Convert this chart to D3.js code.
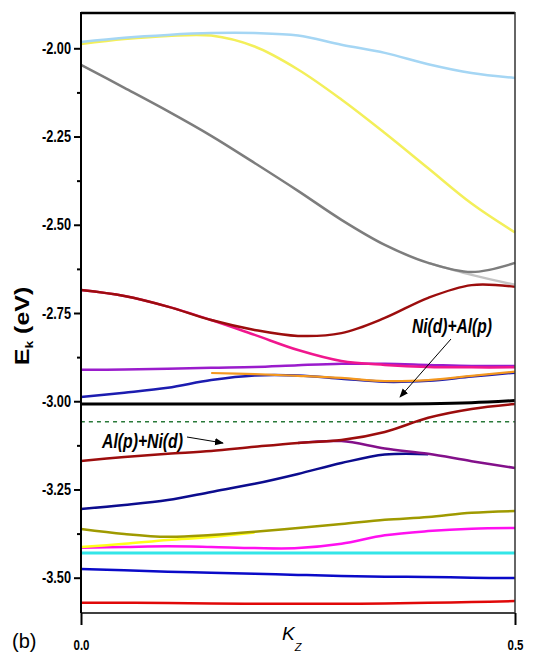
<!DOCTYPE html>
<html>
<head>
<meta charset="utf-8">
<script src="https://cdn.jsdelivr.net/npm/d3@7"></script>
<style>
body { margin: 0; background: #fff; }
</style>
</head>
<body>
<script>
// k_z sample points shared by all bands
var kz = [0, 0.05, 0.1, 0.15, 0.2, 0.25, 0.3, 0.35, 0.4, 0.45, 0.5];

// bands (eV), null = not drawn there
var skyBand     = [-1.982, -1.970, -1.962, -1.957, -1.957, -1.964, -1.990, -2.013, -2.045, -2.070, -2.084];
var yellowTop   = [-1.988, -1.974, -1.965, -1.964, -1.995, -2.060, -2.145, -2.240, -2.340, -2.440, -2.522];
var grayBand    = [-2.047, -2.112, -2.178, -2.248, -2.325, -2.404, -2.486, -2.557, -2.608, -2.634, -2.608];
var lightGray   = [null, null, null, null, null, null, null, null, -2.608, -2.642, -2.670];
var maroonTop   = [-2.685, -2.702, -2.732, -2.770, -2.798, -2.815, -2.807, -2.764, -2.707, -2.671, -2.676];
var pinkBand    = [-2.685, -2.702, -2.732, -2.770, -2.812, -2.855, -2.886, -2.897, -2.903, -2.904, -2.904];
var purpleTop   = [-2.911, -2.910, -2.908, -2.905, -2.903, -2.898, -2.894, -2.894, -2.897, -2.900, -2.900];
var blueTop     = [-2.988, -2.976, -2.962, -2.940, -2.927, -2.927, -2.936, -2.945, -2.942, -2.930, -2.919];
var orangeBand  = [null, null, null, -2.920, -2.923, -2.928, -2.934, -2.943, -2.940, -2.928, -2.916];
var blackBand   = [-3.008, -3.008, -3.008, -3.008, -3.008, -3.008, -3.008, -3.008, -3.007, -3.004, -2.998];
var fermiLine   = [-3.058, -3.058, -3.058, -3.058, -3.058, -3.058, -3.058, -3.058, -3.058, -3.058, -3.058];
var maroonLow   = [-3.169, -3.158, -3.149, -3.141, -3.129, -3.118, -3.110, -3.087, -3.047, -3.022, -3.008];
var purpleLow   = [null, null, null, null, null, -3.118, -3.113, -3.134, -3.149, -3.170, -3.189];
var navyBand    = [-3.305, -3.294, -3.280, -3.257, -3.234, -3.206, -3.175, -3.151, -3.150, null, null];
var oliveBand   = [-3.362, -3.376, -3.384, -3.379, -3.370, -3.359, -3.348, -3.336, -3.328, -3.316, -3.311];
var yellowLow   = [-3.413, -3.404, -3.393, -3.385, -3.372, null, null, null, null, null, null];
var magentaBand = [-3.415, -3.413, -3.411, -3.413, -3.416, -3.416, -3.404, -3.380, -3.368, -3.361, -3.359];
var cyanBand    = [-3.430, -3.430, -3.430, -3.430, -3.430, -3.430, -3.430, -3.430, -3.430, -3.430, -3.430];
var blueLow     = [-3.475, -3.479, -3.483, -3.486, -3.489, -3.492, -3.495, -3.497, -3.498, -3.500, -3.501];
var redLow      = [-3.571, -3.571, -3.572, -3.573, -3.574, -3.574, -3.574, -3.573, -3.571, -3.569, -3.566];

var yMajor = [-2.00, -2.25, -2.50, -2.75, -3.00, -3.25, -3.50];
var yMinor = [-2.125, -2.375, -2.625, -2.875, -3.125, -3.375];
var xTicks = [0, 0.5];

// draw order: lower entries on top
var bands = [
  { v: lightGray,   c: "#c4c4c4", w: 2.5 },
  { v: grayBand,    c: "#7d7d7d", w: 2.5 },
  { v: yellowTop,   c: "#f3ef5a", w: 2.5 },
  { v: skyBand,     c: "#a5d6f4", w: 2.5 },
  { v: purpleTop,   c: "#9a1ccc", w: 2.5 },
  { v: pinkBand,    c: "#f0178e", w: 2.5 },
  { v: maroonTop,   c: "#9c0d0d", w: 2.5 },
  { v: blueTop,     c: "#1c1cb0", w: 2.5 },
  { v: orangeBand,  c: "#f4981f", w: 2.2 },
  { v: blackBand,   c: "#000000", w: 3 },
  { v: fermiLine,   c: "#2a7a3a", w: 1.5, dash: "4,4" },
  { v: navyBand,    c: "#0c0c8e", w: 2.5 },
  { v: purpleLow,   c: "#83108a", w: 2.5 },
  { v: maroonLow,   c: "#9c0d0d", w: 2.5 },
  { v: magentaBand, c: "#ff10f0", w: 2.5 },
  { v: yellowLow,   c: "#ffff1a", w: 2.5 },
  { v: oliveBand,   c: "#9f9a00", w: 2.5 },
  { v: cyanBand,    c: "#33e6e8", w: 3 },
  { v: blueLow,     c: "#0a0ac8", w: 2.5 },
  { v: redLow,      c: "#e00808", w: 2.5 }
];

var W = 536, H = 654;
var x = d3.scaleLinear().domain([0, 0.5]).range([81, 515]);
var y = d3.scaleLinear().domain([-3.6, -1.9]).range([613, 13]);

var svg = d3.select("body").append("svg")
  .attr("width", W)
  .attr("height", H)
  .style("font-family", "'Liberation Sans', Arial, sans-serif");

var line = d3.line()
  .defined(function(d) { return d[1] != null; })
  .x(function(d) { return x(d[0]); })
  .y(function(d) { return y(d[1]); })
  .curve(d3.curveCatmullRom.alpha(0.5));

svg.append("g").selectAll("path")
  .data(bands)
  .enter()
  .append("path")
  .attr("fill", "none")
  .attr("stroke", function(d) { return d.c; })
  .attr("stroke-width", function(d) { return d.w; })
  .attr("stroke-dasharray", function(d) { return d.dash || null; })
  .attr("d", function(d) {
    return line(kz.map(function(k, i) { return [k, d.v[i]]; }));
  });

// frame
svg.append("line").attr("x1", 81).attr("x2", 515).attr("y1", 13).attr("y2", 13)
  .attr("stroke", "#000").attr("stroke-width", 2.5);
svg.append("line").attr("x1", 81).attr("x2", 515).attr("y1", 613).attr("y2", 613)
  .attr("stroke", "#000").attr("stroke-width", 1.6);
svg.append("line").attr("x1", 515).attr("x2", 515).attr("y1", 12).attr("y2", 613)
  .attr("stroke", "#333").attr("stroke-width", 1.5);
svg.append("line").attr("x1", 81).attr("x2", 81).attr("y1", 12).attr("y2", 613)
  .attr("stroke", "#000").attr("stroke-width", 2);

// y axis
var yAxis = svg.append("g")
  .attr("transform", "translate(81,0)")
  .call(d3.axisLeft(y).tickValues(yMajor).tickSize(7).tickPadding(3)
    .tickFormat(function(d) { return d.toFixed(2); }));
yAxis.select(".domain").remove();
yAxis.selectAll("line").attr("stroke-width", 2);
yAxis.selectAll("text")
  .attr("fill", "#000")
  .style("font-size", "16px")
  .style("font-weight", "bold")
  .attr("textLength", 29)
  .attr("lengthAdjust", "spacingAndGlyphs");

var yMinorAxis = svg.append("g")
  .attr("transform", "translate(81,0)")
  .call(d3.axisLeft(y).tickValues(yMinor).tickSize(4).tickFormat(""));
yMinorAxis.select(".domain").remove();
yMinorAxis.selectAll("line").attr("stroke-width", 2);

// x axis
var xAxis = svg.append("g")
  .attr("transform", "translate(0,613)")
  .call(d3.axisBottom(x).tickValues(xTicks).tickSize(12).tickPadding(14)
    .tickFormat(function(d) { return d.toFixed(1); }));
xAxis.select(".domain").remove();
xAxis.selectAll("line").attr("stroke-width", 2);
xAxis.selectAll("text")
  .attr("fill", "#000")
  .style("font-size", "15px")
  .style("font-weight", "bold")
  .attr("textLength", 16)
  .attr("lengthAdjust", "spacingAndGlyphs");

// axis titles
var yl = svg.append("text")
  .attr("transform", "translate(29,326) scale(0.8,1) rotate(-90)")
  .attr("text-anchor", "middle")
  .style("font-size", "25px")
  .style("font-weight", "bold");
yl.append("tspan").text("E");
yl.append("tspan").attr("dy", 5).style("font-size", "14px").text("k");
yl.append("tspan").attr("dy", -5).text(" (eV)");

var xl = svg.append("text")
  .attr("x", 282).attr("y", 640)
  .style("font-size", "19px")
  .style("font-style", "italic");
xl.append("tspan").text("K");
xl.append("tspan").attr("dy", 11).style("font-size", "11px").text("Z");

svg.append("text")
  .attr("x", 12).attr("y", 648)
  .style("font-size", "20px")
  .text("(b)");

// annotations
svg.append("defs").append("marker")
  .attr("id", "arr")
  .attr("viewBox", "0 0 10 10")
  .attr("refX", 9).attr("refY", 5)
  .attr("markerWidth", 9).attr("markerHeight", 9)
  .attr("markerUnits", "userSpaceOnUse")
  .attr("orient", "auto")
  .append("path").attr("d", "M0,1 L10,5 L0,9 Z").attr("fill", "#000");

svg.append("text")
  .attr("x", 412).attr("y", 333)
  .style("font-size", "21px").style("font-weight", "bold").style("font-style", "italic")
  .attr("textLength", 80).attr("lengthAdjust", "spacingAndGlyphs")
  .text("Ni(d)+Al(p)");
svg.append("line")
  .attr("x1", 451).attr("y1", 339).attr("x2", 400).attr("y2", 397)
  .attr("stroke", "#000").attr("stroke-width", 1)
  .attr("marker-end", "url(#arr)");

svg.append("text")
  .attr("x", 102).attr("y", 448)
  .style("font-size", "21px").style("font-weight", "bold").style("font-style", "italic")
  .attr("textLength", 81).attr("lengthAdjust", "spacingAndGlyphs")
  .text("Al(p)+Ni(d)");
svg.append("line")
  .attr("x1", 187).attr("y1", 437).attr("x2", 223).attr("y2", 443)
  .attr("stroke", "#000").attr("stroke-width", 1)
  .attr("marker-end", "url(#arr)");
</script>
</body>
</html>
